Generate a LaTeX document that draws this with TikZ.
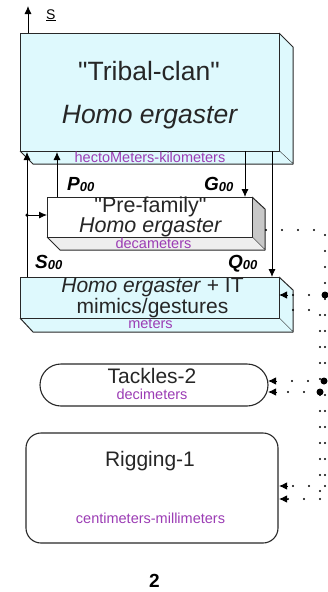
\documentclass[tikz,border=0pt]{standalone}
\usepackage{fontspec}
\setmainfont{Liberation Sans}[Ligatures=TeXOff]
\usetikzlibrary{arrows.meta}
\definecolor{boxcyan}{RGB}{222,249,253}
\definecolor{lblpurple}{RGB}{155,60,180}
\definecolor{sidegrey}{RGB}{200,200,200}
\definecolor{botgrey}{RGB}{238,238,238}
\definecolor{edgegrey}{RGB}{40,40,40}
\tikzset{
  face/.style={draw=edgegrey,line width=1pt,line join=round},
  front/.style={face,rectangle,inner sep=0pt,outer sep=0pt},
  pill/.style={draw=edgegrey,line width=1.1pt,rectangle,inner sep=0pt,outer sep=0pt},
  txt/.style={inner sep=0pt,anchor=base,text=black!85},
  lbl/.style={inner sep=0pt,anchor=base,text=lblpurple,font=\fontsize{14.5}{15}\selectfont},
  arr/.style={line width=0.9pt,-{Latex[length=8pt,width=7pt]}},
  tiponly/.style={line width=0.9pt,-{Latex[length=8pt,width=7.5pt]}},
  dotline/.style={line width=2.2pt,line cap=round,dash pattern=on 0pt off 16pt},
  bigdot/.style={circle,fill=black,inner sep=0pt,minimum size=7pt},
  smalldot/.style={circle,fill=black,inner sep=0pt,minimum size=3.5pt},
  flow/.style={inner sep=0pt,anchor=base west,font=\bfseries\itshape\fontsize{19}{20}\selectfont},
}
\newcommand{\sub}[1]{\raisebox{-1.5pt}{\fontsize{13}{14}\selectfont #1}}
\begin{document}
\begin{tikzpicture}[x=1pt,y=-1pt]
\useasboundingbox (0,0) rectangle (327,592);

% ---------- Tribal-clan box ----------
\fill[boxcyan] (279,33) -- (293,47) -- (293,164) -- (279,151) -- cycle;
\draw[face] (279,33) -- (293,47) -- (293,164) -- (279,151);
\fill[boxcyan] (20,151) -- (279,151) -- (293,164) -- (33,164) -- cycle;
\draw[face] (20,151) -- (33,164) -- (293,164);
\node[front,fill=boxcyan,minimum width=259pt,minimum height=118pt] (tribal) at (149.5,92) {};
\node[txt,font=\fontsize{26.5}{28}\selectfont] (t1) at (149,80) {"Tribal-clan"};
\node[txt,font=\itshape\fontsize{26.5}{28}\selectfont] (t2) at (149.5,123) {Homo ergaster};
\node[lbl] (t3) at (150,162) {hectoMeters-kilometers};

% ---------- Pre-family box ----------
\fill[sidegrey] (252,197) -- (265,209) -- (265,250) -- (252,237) -- cycle;
\draw[face] (252,197) -- (265,209) -- (265,250) -- (252,237);
\fill[botgrey] (47,237) -- (252,237) -- (265,250) -- (60,250) -- cycle;
\draw[face] (47,237) -- (60,250) -- (265,250);
\node[front,fill=white,minimum width=205pt,minimum height=40pt] (pre) at (149.5,217) {};
\node[txt,align=center,font=\fontsize{21.5}{20}\selectfont] (p1) at (150.5,232.5) {"Pre-family"\\\textit{Homo ergaster}};
\node[lbl] (p3) at (153.5,248) {decameters};

% ---------- Homo ergaster + IT box ----------
\fill[boxcyan] (279,277) -- (293,290) -- (293,332) -- (279,318) -- cycle;
\draw[face] (279,277) -- (293,290) -- (293,332) -- (279,318);
\fill[boxcyan] (20,318) -- (279,318) -- (293,332) -- (33,332) -- cycle;
\draw[face] (20,318) -- (33,332) -- (293,332);
\node[front,fill=boxcyan,minimum width=259pt,minimum height=41pt] (homo) at (149.5,297.5) {};
\node[txt,align=center,font=\fontsize{21}{18}\selectfont] (h1) at (152.5,313.5) {\textit{Homo ergaster} + IT\\mimics/gestures};
\node[lbl] (h3) at (150.5,328.5) {meters};

% ---------- Tackles-2 ----------
\node[pill,rounded corners=21pt,minimum width=228pt,minimum height=42pt] (tackles) at (154,385) {};
\node[txt,font=\fontsize{21}{22}\selectfont] (k1) at (152,383) {Tackles-2};
\node[lbl] (k2) at (152,399) {decimeters};

% ---------- Rigging-1 ----------
\node[pill,rounded corners=15pt,minimum width=252pt,minimum height=110pt] (rigging) at (152,488) {};
\node[txt,font=\fontsize{21}{22}\selectfont] (r1) at (150,466) {Rigging-1};
\node[lbl] (r2) at (150.5,523) {centimeters-millimeters};

% ---------- labels ----------
\node[inner sep=0pt,anchor=base west,font=\fontsize{14}{15}\selectfont] (slbl) at (46,19) {\underline{S}};
\node[flow] (P) at (67,190) {P\sub{00}};
\node[flow] (G) at (204,190) {G\sub{00}};
\node[flow] (S) at (35,268) {S\sub{00}};
\node[flow] (Q) at (228,268) {Q\sub{00}};
\node[inner sep=0pt,anchor=base,font=\bfseries\fontsize{19}{20}\selectfont] (num) at (154.5,587) {2};

% ---------- coordinates ----------
\coordinate (sTop) at (28,6);
\coordinate (sBot) at (28,33);
\coordinate (aL1) at (27,277);  \coordinate (aL2) at (27,152);
\coordinate (aP1) at (57,197);  \coordinate (aP2) at (57,152);
\coordinate (aG1) at (245,151); \coordinate (aG2) at (245,197);
\coordinate (aQ1) at (272,151); \coordinate (aQ2) at (272,277);
\coordinate (jL) at (27,215);   \coordinate (preL) at (47,215);

% ---------- solid arrows ----------
\draw[arr] (sBot) -- (sTop);
\draw[arr] (aL1) -- (aL2);
\draw[arr] (aP1) -- (aP2);
\draw[arr] (aG1) -- (aG2);
\draw[arr] (aQ1) -- (aQ2);
\node[smalldot] (jdot) at (jL) {};
\draw[arr] (jdot.center) -- (preL);

% ---------- dotted connectors ----------
\coordinate (d1s) at (266,230);
\coordinate (d1c) at (325,230);
\coordinate (d1e) at (325,486);
\coordinate (d2s) at (293,310);
\coordinate (d2c) at (320,310);
\coordinate (d2e) at (320,499);
\draw[dotline] (d1s) -- (d1c) -- (d1e);
\draw[dotline] (d2s) -- (d2c) -- (d2e);

\node[bigdot] (b1) at (325,295) {};
\node[bigdot] (b2) at (324,381) {};
\node[bigdot] (b3) at (320,392) {};

\coordinate (homoR) at (279,295);   \coordinate (homoRa) at (288,295);
\coordinate (tackR1) at (268,381);  \coordinate (tackR1a) at (277,381);
\coordinate (tackR2) at (268,392);  \coordinate (tackR2a) at (277,392);
\coordinate (rigR1) at (279,486);   \coordinate (rigR1a) at (288,486);
\coordinate (rigR2) at (279,499);   \coordinate (rigR2a) at (288,499);

\draw[dotline] (b1.center) -- (homoRa);
\draw[dotline] (b2.center) -- (tackR1a);
\draw[dotline] (b3.center) -- (tackR2a);
\draw[dotline] (d1e) -- (rigR1a);
\draw[dotline] (d2e) -- (rigR2a);

\draw[tiponly] (homoRa) -- (homoR);
\draw[tiponly] (tackR1a) -- (tackR1);
\draw[tiponly] (tackR2a) -- (tackR2);
\draw[tiponly] (rigR1a) -- (rigR1);
\draw[tiponly] (rigR2a) -- (rigR2);
\end{tikzpicture}
\end{document}
